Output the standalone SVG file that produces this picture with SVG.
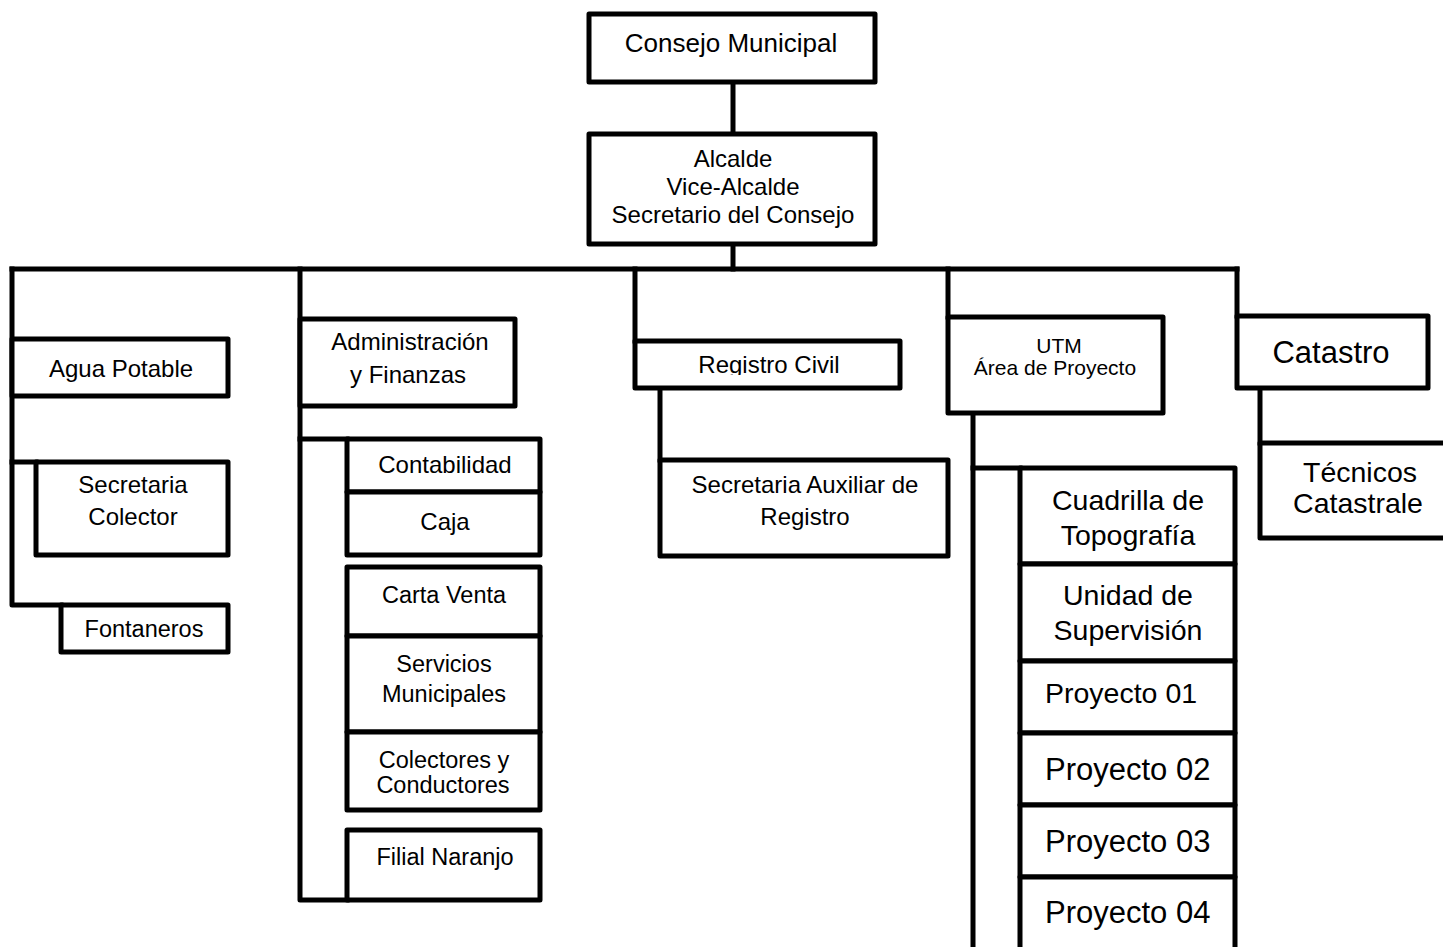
<svg xmlns="http://www.w3.org/2000/svg" width="1443" height="947" viewBox="0 0 1443 947">
<style>
rect{fill:#fff;stroke:#000;stroke-width:5;stroke-linejoin:round}
.c line,.c path{stroke:#000;stroke-width:5;fill:none;stroke-linecap:square;stroke-linejoin:round}
text{font-family:"Liberation Sans",Arial,sans-serif;font-size:24px;fill:#000;text-anchor:middle}
.s23{font-size:23.5px}
.s21{font-size:21px}
.s28{font-size:28.5px}
.s31{font-size:31px}
</style>
<defs>
<clipPath id="rcclip"><rect x="636" y="343" width="262" height="32"/></clipPath>
</defs>
<g class="c" id="connectors">
<line x1="733" y1="82" x2="733" y2="134"/>
<line x1="733" y1="244" x2="733" y2="269"/>
<line x1="12" y1="269" x2="1237" y2="269"/>
<path d="M12 269 V605 H61"/>
<line x1="12" y1="462" x2="36" y2="462"/>
<path d="M300 269 V900 H347"/>
<line x1="300" y1="439" x2="347" y2="439"/>
<line x1="635" y1="269" x2="635" y2="341"/>
<line x1="660" y1="388" x2="660" y2="460"/>
<line x1="948" y1="269" x2="948" y2="317"/>
<path d="M973 413 V960"/>
<line x1="973" y1="468" x2="1020" y2="468"/>
<line x1="1237" y1="269" x2="1237" y2="316"/>
<line x1="1260" y1="388" x2="1260" y2="443"/>
</g>
<g id="consejo"><rect x="589" y="14" width="286" height="68"/><text x="731" y="52" style="font-size:26px">Consejo Municipal</text></g>
<g id="alcalde"><rect x="589" y="134" width="286" height="110"/><text x="733" y="167">Alcalde</text><text x="733" y="195">Vice-Alcalde</text><text x="733" y="223">Secretario del Consejo</text></g>
<g id="agua"><rect x="12" y="339" width="216" height="57"/><text x="121" y="377">Agua Potable</text></g>
<g id="secretaria-colector"><rect x="36" y="462" width="192" height="93"/><text x="133" y="493">Secretaria</text><text x="133" y="525">Colector</text></g>
<g id="fontaneros"><rect x="61" y="605" width="167" height="47"/><text x="144" y="637" class="s23">Fontaneros</text></g>
<g id="admin"><rect x="300" y="319" width="215" height="87"/><text x="410" y="350">Administración</text><text x="408" y="383">y Finanzas</text></g>
<g id="contabilidad"><rect x="347" y="439" width="193" height="53"/><text x="445" y="473">Contabilidad</text></g>
<g id="caja"><rect x="347" y="492" width="193" height="63"/><text x="445" y="530">Caja</text></g>
<g id="carta-venta"><rect x="347" y="567" width="193" height="69"/><text x="444" y="603" class="s23">Carta Venta</text></g>
<g id="servicios"><rect x="347" y="636" width="193" height="96"/><text x="444" y="672" class="s23">Servicios</text><text x="444" y="702" class="s23">Municipales</text></g>
<g id="colectores"><rect x="347" y="732" width="193" height="78"/><text x="444" y="768" class="s23">Colectores y</text><text x="443" y="793" class="s23">Conductores</text></g>
<g id="filial"><rect x="347" y="830" width="193" height="70"/><text x="445" y="865" class="s23">Filial Naranjo</text></g>
<g id="registro-civil"><rect x="635" y="341" width="265" height="47"/><text x="769" y="373" clip-path="url(#rcclip)">Registro Civil</text></g>
<g id="secretaria-auxiliar"><rect x="660" y="460" width="288" height="96"/><text x="805" y="493">Secretaria Auxiliar de</text><text x="805" y="525">Registro</text></g>
<g id="utm"><rect x="948" y="317" width="215" height="96"/><text x="1059" y="353" class="s21">UTM</text><text x="1055" y="375" class="s21">Área de Proyecto</text></g>
<g id="cuadrilla"><rect x="1020" y="468" width="215" height="96"/><text x="1128" y="510" class="s28">Cuadrilla de</text><text x="1128" y="545" class="s28">Topografía</text></g>
<g id="unidad"><rect x="1020" y="564" width="215" height="97"/><text x="1128" y="605" class="s28">Unidad de</text><text x="1128" y="640" class="s28">Supervisión</text></g>
<g id="proyecto01"><rect x="1020" y="661" width="215" height="72"/><text x="1045" y="703" class="s28" style="text-anchor:start">Proyecto 01</text></g>
<g id="proyecto02"><rect x="1020" y="733" width="215" height="72"/><text x="1045" y="780" class="s31" style="text-anchor:start">Proyecto 02</text></g>
<g id="proyecto03"><rect x="1020" y="805" width="215" height="72"/><text x="1045" y="852" class="s31" style="text-anchor:start">Proyecto 03</text></g>
<g id="proyecto04"><rect x="1020" y="877" width="215" height="80"/><text x="1045" y="923" class="s31" style="text-anchor:start">Proyecto 04</text></g>
<g id="catastro"><rect x="1237" y="316" width="191" height="72"/><text x="1331" y="363" class="s31">Catastro</text></g>
<g id="tecnicos"><rect x="1260" y="443" width="200" height="95"/><text x="1360" y="482" class="s28">Técnicos</text><text x="1358" y="513" class="s28">Catastrale</text></g>
</svg>
